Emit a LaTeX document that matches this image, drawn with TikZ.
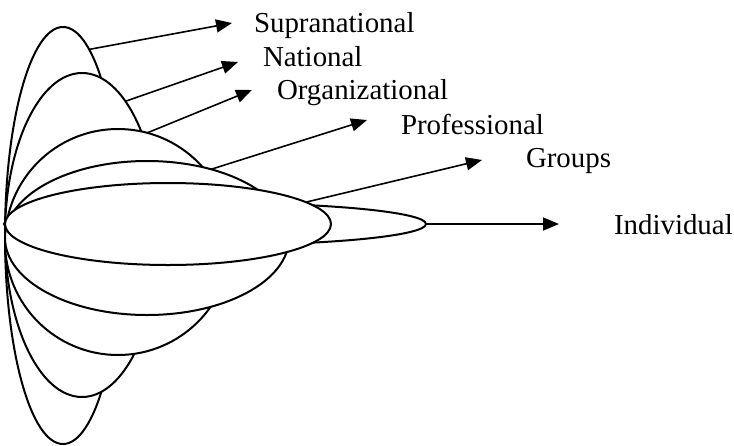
\documentclass[tikz,border=0pt]{standalone}
\usepackage{fontspec}
\setmainfont{Liberation Serif}
\usetikzlibrary{shapes.geometric}
\usetikzlibrary{arrows.meta}

\begin{document}
\begin{tikzpicture}[x=1pt,y=-1pt,line width=2pt,
  sphere/.style={draw,ellipse,fill=white,inner sep=0pt,outer sep=0pt},
  tag/.style={anchor=base west,inner sep=0pt,font=\fontsize{28.9}{34}\selectfont},
  pointer/.style={line width=1.6pt,-{Triangle[length=16pt,width=13pt]}}]
  \useasboundingbox (0,0) rectangle (734,445);

  % nested spheres, back to front
  \node[sphere,minimum width=116pt,minimum height=417pt] (sup) at (63,235.5) {};
  \node[sphere,minimum width=154pt,minimum height=324pt] (nat) at (82,235) {};
  \node[sphere,minimum width=226pt,minimum height=226pt] (org) at (118,242) {};
  \node[sphere,minimum width=284pt,minimum height=154pt] (pro) at (147,238) {};
  \node[sphere,minimum width=422pt,minimum height=42pt] (ind) at (215,224) {};
  \node[sphere,minimum width=326pt,minimum height=82pt] (grp) at (168,224) {};

  \node[tag] (supText) at (253,32) {Supranational};
  \node[tag] (natText) at (262,66) {National};
  \node[tag] (orgText) at (276,99) {Organizational};
  \node[tag] (proText) at (400,134) {Professional};
  \node[tag] (grpText) at (525,167) {Groups};
  \node[tag] (indText) at (613,234) {Individual};

  \coordinate (supTip) at (232,23);
  \coordinate (natTip) at (238,62);
  \coordinate (orgTip) at (252,90);
  \coordinate (proTip) at (367,120);
  \coordinate (grpTip) at (482,160);
  \coordinate (indTip) at (559,224);

  \draw[pointer] (sup.82) -- (supTip);
  \draw[pointer] (nat.72) -- (natTip);
  \draw[pointer] (org.75) -- (orgTip);
  \draw[pointer] (pro.47) -- (proTip);
  \draw[pointer] (grp.9.5) -- (grpTip);
  \draw[pointer] (ind.east) -- (indTip);
\end{tikzpicture}
\end{document}
